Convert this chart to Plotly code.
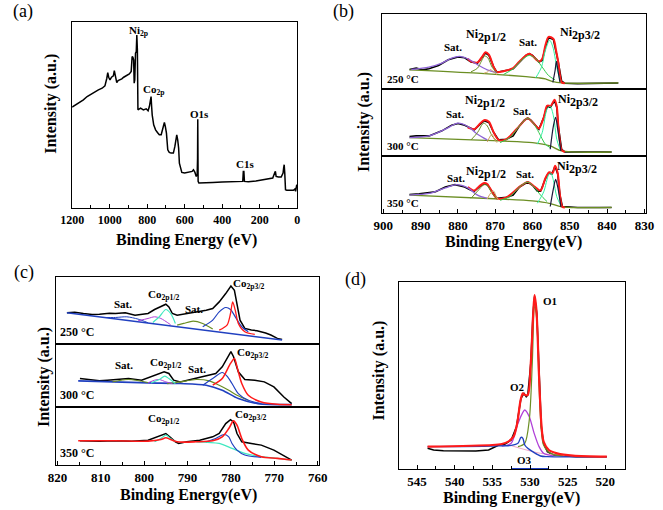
import plotly.graph_objects as go

FONT = "Liberation Serif, Times New Roman, serif"

# ---------------- (a) survey spectrum ----------------
a_e = [1200, 1180, 1160, 1140, 1120, 1100, 1080, 1060, 1040, 1025, 1015, 1010, 1005, 998, 990, 980, 975, 970, 962, 955,
       945, 935, 925, 910, 895, 885, 880, 876, 872, 869, 866, 862, 858, 855, 852, 849, 845, 835, 820, 805, 795, 788, 782,
       779, 776, 773, 765, 755, 745, 735, 725, 718, 712, 708, 703, 697, 690, 682, 672, 660, 652, 646, 642, 637, 632, 628,
       622, 615, 600, 580, 560, 553, 545, 538, 533, 531, 530, 528, 524, 510, 480, 450, 400, 350, 300, 290, 287, 284, 281,
       260, 220, 180, 150, 130, 120, 116, 112, 100, 85, 75, 72, 69, 66, 62, 55, 40, 30, 20, 12, 8, 5, 2]
a_i = [303, 310, 317, 325, 335, 342, 349, 355, 360, 367, 390, 407, 393, 385, 393, 397, 413, 400, 377, 383,
       385, 388, 393, 397, 403, 410, 455, 453, 445, 375, 385, 465, 470, 520, 475, 295, 297, 300, 295, 298, 292, 305, 325,
       335, 305, 280, 250, 235, 227, 220, 220, 240, 255, 257, 245, 225, 175, 167, 165, 165, 185, 213, 220, 205, 180, 135,
       125, 107, 105, 107, 110, 115, 107, 95, 100, 150, 267, 80, 75, 75, 75, 77, 78, 79, 82, 80, 110, 110, 80,
       79, 81, 84, 87, 90, 105, 110, 95, 93, 93, 105, 120, 130, 105, 55, 53, 52, 53, 53, 57, 50, 65, 70]
a_ticks = [1200, 1000, 800, 600, 400, 200, 0]

# ---------------- (b) Ni 2p, 250 C ----------------
b1_data_e = [893.0, 891.2, 889.5, 887.8, 885.2, 882.6, 880.0, 878.2, 876.5, 874.75, 873.45, 872.6, 871.7, 870.4, 869.55,
             867.8, 866.1, 865.2, 863.5, 861.75, 860.9, 860.0, 858.3, 857.4, 856.55, 855.7, 854.4, 853.7, 853.1, 852.2,
             851.35, 847.9, 844.4, 840.1, 837.0]
b1_data_i = [58, 62, 57, 60, 70, 87, 95, 93, 80, 77, 95, 107, 100, 65, 50, 53, 57, 60, 80, 100, 105, 100, 80, 85, 125,
             153, 147, 115, 80, 23, 17, 16, 17, 17, 18]
b1_bg_e = [893.0, 874.75, 861.75, 858.3, 856.55, 854.8, 852.2, 837.0]
b1_bg_i = [57, 47, 37, 33, 30, 23, 18, 18]
b1_sat1_e = [892.5, 887.8, 884.3, 881.7, 879.5, 877.35, 874.75, 872.15, 869.55]
b1_sat1_i = [58, 65, 77, 92, 97, 90, 72, 57, 49]
b1_p12_e = [876.5, 874.75, 873.7, 872.85, 872.0, 870.85, 869.55]
b1_p12_i = [51, 62, 83, 98, 93, 65, 48]
b1_tan_e = [873.0, 872.0, 871.3, 870.6, 869.55]
b1_tan_i = [47, 51, 58, 52, 43]
b1_sat2_e = [867.8, 865.2, 863.05, 860.9, 859.15, 857.4, 855.7, 853.95]
b1_sat2_i = [43, 60, 85, 100, 90, 65, 40, 27]
b1_p32_e = [859.15, 857.6, 856.55, 855.4, 854.55, 853.5, 852.65]
b1_p32_i = [33, 65, 115, 145, 125, 65, 25]
b1_p32b_e = [854.55, 853.95, 853.6, 853.25, 852.65]
b1_p32b_i = [20, 55, 82, 60, 20]
b1_fit_e = [877.35, 876.5, 874.75, 873.45, 872.6, 871.7, 870.4, 869.55, 867.8, 865.2, 863.5, 860.9, 858.3, 857.4,
            856.55, 855.7, 854.4, 853.7, 853.1, 852.2, 851.35]
b1_fit_i = [90, 82, 79, 97, 109, 102, 65, 50, 53, 62, 82, 105, 82, 90, 130, 155, 149, 115, 80, 20, 17]

# ---------------- (b) Ni 2p, 300 C ----------------
b2_data_e = [893.0, 891.2, 887.75, 884.3, 881.7, 880.0, 878.2, 876.5, 875.6, 874.3, 873.0, 871.7, 870.4, 869.1, 867.0,
             865.2, 863.5, 862.2, 861.3, 860.45, 859.15, 858.3, 857.0, 856.1, 855.25, 854.1, 853.5, 853.1, 852.2, 851.35,
             847.0, 838.8]
b2_data_i = [58, 60, 60, 75, 92, 97, 92, 82, 78, 92, 105, 100, 70, 48, 50, 60, 90, 107, 113, 107, 90, 80, 115, 148, 145,
             165, 145, 90, 20, 12, 12, 12]
b2_bg_e = [893.0, 868.7, 860.0, 855.25, 852.2, 838.8]
b2_bg_i = [55, 45, 40, 30, 15, 12]
b2_sat1_e = [893.0, 887.75, 883.4, 880.0, 877.35, 874.75, 872.15]
b2_sat1_i = [55, 60, 80, 98, 88, 65, 48]
b2_p12_e = [876.5, 874.75, 873.45, 873.0, 872.15, 870.85, 869.55]
b2_p12_i = [48, 70, 95, 98, 90, 60, 44]
b2_tan_e = [872.15, 871.3, 870.85, 870.25, 869.55]
b2_tan_i = [42, 60, 65, 50, 40]
b2_sat2_e = [868.7, 866.1, 863.5, 861.3, 859.6, 858.3, 856.55, 855.25]
b2_sat2_i = [40, 55, 90, 113, 95, 70, 35, 25]
b2_p32_e = [858.7, 857.4, 856.1, 855.25, 854.4, 853.5, 852.65]
b2_p32_i = [35, 70, 140, 148, 120, 50, 20]
b2_p32b_e = [855.25, 854.4, 853.8, 853.25, 852.4]
b2_p32b_i = [20, 90, 115, 80, 15]
b2_fit_e = [877.35, 875.6, 874.3, 873.0, 871.7, 870.4, 869.1, 867.0, 863.5, 861.3, 859.15, 858.3, 857.0, 856.1, 855.1,
            854.1, 853.5, 853.1, 852.2, 851.35]
b2_fit_i = [85, 80, 94, 107, 102, 70, 48, 50, 90, 113, 90, 82, 115, 150, 150, 168, 148, 92, 18, 12]

# ---------------- (b) Ni 2p, 350 C ----------------
b3_data_e = [893.0, 890.4, 886.0, 883.4, 880.8, 878.2, 876.5, 875.6, 874.3, 873.0, 872.15, 870.85, 869.55, 867.0, 865.2,
             863.5, 861.3, 860.0, 858.7, 857.85, 856.55, 855.7, 854.8, 853.95, 853.25, 852.65, 852.0, 847.9, 838.8]
b3_data_i = [57, 59, 65, 80, 87, 80, 70, 67, 80, 90, 87, 65, 45, 48, 55, 80, 95, 85, 67, 67, 105, 123, 120, 143, 120,
             55, 20, 17, 17]
b3_bg_e = [893.0, 868.7, 860.0, 855.25, 852.2, 838.8]
b3_bg_i = [55, 43, 37, 29, 19, 17]
b3_sat1_e = [893.0, 887.75, 883.4, 880.4, 877.35, 874.75, 872.15]
b3_sat1_i = [55, 60, 77, 87, 77, 55, 45]
b3_p12_e = [876.5, 874.75, 873.0, 872.15, 870.85, 869.55]
b3_p12_i = [45, 67, 87, 85, 60, 43]
b3_tan_e = [872.15, 871.1, 870.4, 869.7, 869.1]
b3_tan_i = [43, 63, 67, 50, 40]
b3_sat2_e = [868.7, 866.1, 863.5, 861.3, 859.6, 857.85, 856.1]
b3_sat2_i = [39, 50, 80, 95, 80, 55, 35]
b3_p32_e = [858.7, 857.0, 855.7, 855.1, 854.4, 853.5, 852.4]
b3_p32_i = [30, 65, 117, 123, 100, 50, 23]
b3_p32b_e = [855.25, 854.4, 853.8, 853.25, 852.4]
b3_p32b_i = [20, 75, 103, 80, 19]
b3_fit_e = [877.35, 875.6, 874.3, 873.0, 872.15, 870.85, 869.55, 867.0, 863.5, 861.3, 859.6, 857.85, 856.55, 855.5,
            854.6, 853.95, 853.25, 852.65, 852.0, 851.35]
b3_fit_i = [80, 69, 82, 92, 89, 65, 45, 48, 80, 95, 82, 69, 107, 125, 123, 145, 123, 55, 19, 17]
b_ticks = [900, 890, 880, 870, 860, 850, 840, 830]

# ---------------- (c) Co 2p, 250 C ----------------
c1_data_e = [817.8, 816.0, 814.0, 812.0, 810.3, 808.0, 806.6, 804.35, 802.1, 800.5, 799.1, 797.6, 796.15, 795.0, 794.3,
             793.5, 792.4, 790.2, 789.0, 787.95, 786.8, 785.7, 784.2, 782.7, 781.2, 780.0, 779.2, 778.6, 777.9, 776.8,
             775.3, 774.0, 773.0, 772.0, 770.8, 769.3, 768.2]
c1_data_i = [94, 96, 92, 89, 90, 93, 92, 94, 87, 90, 92, 104, 114, 120, 112, 92, 87, 92, 93, 97, 100, 102, 107, 127,
             152, 175, 162, 122, 72, 47, 42, 40, 37, 33, 27, 17, 14]
c1_bg_e = [817.8, 768.2]
c1_bg_i = [94, 12]
c1_satb_e = [809.6, 806.6, 804.0, 801.4, 799.1]
c1_satb_i = [80, 80, 82, 75, 64]
c1_pur_e = [801.4, 799.1, 797.6, 796.15, 793.9]
c1_pur_i = [70, 77, 82, 77, 58]
c1_cyan_e = [798.0, 796.5, 795.0, 793.9, 792.8]
c1_cyan_i = [65, 82, 104, 92, 62]
c1_sat_e = [792.4, 790.9, 788.7, 786.5, 784.2]
c1_sat_i = [57, 62, 69, 62, 45]
c1_blue_e = [786.5, 784.2, 782.7, 781.2, 780.1, 779.0, 777.5, 776.0]
c1_blue_i = [52, 72, 97, 110, 104, 82, 52, 37]
c1_red_e = [782.7, 780.9, 780.1, 779.6, 779.0, 778.3, 776.8, 774.5]
c1_red_i = [42, 57, 92, 127, 102, 62, 37, 29]

# ---------------- (c) Co 2p, 300 C ----------------
c2_data_e = [814.8, 812.5, 810.3, 808.5, 806.6, 803.6, 800.6, 797.6, 795.4, 794.3, 793.2, 791.7, 789.4, 787.2, 785.0,
             783.5, 782.0, 780.9, 780.0, 779.4, 778.3, 776.8, 774.5, 772.3, 770.1, 767.8, 766.0]
c2_data_i = [85, 82, 78, 80, 82, 85, 80, 95, 105, 100, 80, 75, 82, 88, 95, 100, 120, 145, 165, 150, 105, 82, 80, 75,
             60, 30, 10]
c2_bg_e = [815.2, 799.1, 791.7, 785.7, 782.0, 778.3, 773.8, 766.0]
c2_bg_i = [78, 72, 70, 65, 50, 25, 10, 7]
c2_sata_e = [807.3, 803.6, 799.1]
c2_sata_i = [75, 82, 73]
c2_sat_e = [794.7, 791.7, 788.0, 785.0, 782.7, 780.5, 778.6, 776.0]
c2_sat_i = [70, 75, 82, 78, 65, 50, 35, 20]
c2_pur_e = [799.1, 797.6, 796.5, 795.0, 793.5]
c2_pur_i = [72, 80, 82, 75, 70]
c2_cyan_e = [798.4, 796.5, 795.25, 794.3, 792.8]
c2_cyan_i = [72, 82, 92, 85, 70]
c2_blue_e = [786.5, 784.2, 782.0, 780.9, 779.75, 778.3, 776.0, 773.0]
c2_blue_i = [65, 85, 103, 92, 70, 40, 20, 10]
c2_red_e = [784.2, 782.0, 780.1, 779.2, 778.6, 777.5, 776.0, 773.0, 769.3, 766.0]
c2_red_i = [65, 85, 130, 145, 120, 70, 35, 15, 8, 7]

# ---------------- (c) Co 2p, 350 C ----------------
c3_data_e = [814.8, 812.0, 810.3, 806.6, 802.9, 799.1, 796.9, 795.0, 793.9, 792.8, 792.05, 790.2, 787.2, 784.2, 782.7,
             781.2, 780.1, 779.4, 778.6, 777.5, 775.3, 773.0, 770.1, 767.8, 766.0]
c3_data_i = [73, 71, 72, 73, 72, 75, 85, 95, 83, 70, 65, 70, 75, 85, 95, 125, 137, 130, 95, 70, 65, 60, 45, 27, 15]
c3_red_e = [815.2, 806.6, 799.1, 796.15, 795.0, 793.9, 792.4, 788.0, 784.2, 782.0, 780.5, 779.4, 778.6, 777.5, 776.0,
            773.0, 769.3, 766.0]
c3_red_i = [73, 73, 72, 77, 82, 77, 70, 70, 73, 85, 110, 133, 120, 80, 45, 25, 20, 15]
c3_blue_e = [785.7, 783.5, 781.6, 780.5, 779.75, 778.6, 776.8, 773.0]
c3_blue_i = [70, 80, 92, 85, 65, 45, 30, 23]
c3_cyan_e = [797.6, 796.15, 795.0, 793.9, 792.8]
c3_cyan_i = [70, 80, 90, 80, 70]
c3_cbg_e = [788.0, 782.7, 779.75, 776.8, 773.0, 769.3, 766.0]
c3_cbg_i = [70, 65, 50, 35, 25, 20, 15]
c_ticks = [820, 810, 800, 790, 780, 770, 760]

# ---------------- (d) O 1s ----------------
d_data_e = [543.6, 542.8, 541.5, 539.3, 537.2, 535.5, 534.8, 534.2, 533.3, 532.5, 531.8, 531.4, 531.2, 530.8, 530.5,
            530.3, 529.9, 529.6, 529.4, 529.1, 528.8, 528.5, 528.2, 527.7, 526.9, 525.6, 523.9, 522.15, 519.8]
d_data_i = [62, 57, 55, 54, 54, 57, 64, 71, 75, 87, 127, 187, 212, 227, 217, 222, 317, 467, 517, 467, 267, 127, 77, 52,
            42, 39, 37, 37, 37]
d_fit_e = [543.6, 535.0, 533.75, 532.9, 532.2, 531.7, 531.25, 530.95, 530.65, 530.3, 529.9, 529.6, 529.4, 529.15,
           528.8, 528.5, 528.2, 527.5, 526.4, 524.3, 519.8]
d_fit_i = [67, 72, 75, 82, 97, 137, 207, 227, 222, 222, 317, 457, 522, 477, 277, 137, 82, 57, 47, 40, 37]
d_o1_e = [531.6, 530.7, 530.1, 529.7, 529.4, 529.1, 528.8, 528.5, 528.2, 527.3, 525.6]
d_o1_i = [67, 77, 147, 317, 487, 447, 247, 117, 72, 47, 39]
d_o2_e = [533.75, 532.5, 531.6, 530.7, 530.1, 529.45, 528.8, 528.2, 526.9]
d_o2_i = [69, 77, 137, 177, 157, 107, 67, 47, 39]
d_o3_e = [543.6, 535.0, 532.5, 531.6, 531.2, 530.95, 530.7, 530.3, 529.45, 528.6, 527.7, 519.8]
d_o3_i = [67, 69, 71, 77, 95, 92, 72, 62, 49, 39, 37, 37]
d_pink_e = [532.5, 528.6, 524.3]
d_pink_i = [70, 47, 39]
d_axis_e = [532.5, 527.5]
d_axis_i = [1, 1]
d_ticks = [545, 540, 535, 530, 525, 520]

# ---------------- colours ----------------
BLACK = "#000000"
RED = "#ff1a1a"
PURPLE_B = "#8e63d6"
OLIVE = "#6b8e23"
TAN = "#d2a060"
GREEN = "#33c84a"
SPRING = "#2ef0a0"
DARK = "#1a1a3a"
BLUE = "#2040c0"
CYAN = "#40e8c0"
MAGENTA = "#b040d8"
PINK = "#f0a8c8"

fig = go.Figure()


def add(xs, ys, ax, color, width=1.0, spline=True):
    fig.add_trace(go.Scatter(
        x=xs, y=ys, mode="lines", xaxis="x" + ax, yaxis="y" + ax,
        line=dict(color=color, width=width, shape="spline" if spline else "linear", smoothing=0.8),
        hoverinfo="skip", showlegend=False))


# (a)
add(a_e, a_i, "", BLACK, 1.5, False)

# (b)
for ax, D in [("2", (b1_data_e, b1_data_i, b1_bg_e, b1_bg_i, b1_sat1_e, b1_sat1_i, b1_p12_e, b1_p12_i, b1_tan_e, b1_tan_i,
                      b1_sat2_e, b1_sat2_i, b1_p32_e, b1_p32_i, b1_p32b_e, b1_p32b_i, b1_fit_e, b1_fit_i)),
              ("3", (b2_data_e, b2_data_i, b2_bg_e, b2_bg_i, b2_sat1_e, b2_sat1_i, b2_p12_e, b2_p12_i, b2_tan_e, b2_tan_i,
                      b2_sat2_e, b2_sat2_i, b2_p32_e, b2_p32_i, b2_p32b_e, b2_p32b_i, b2_fit_e, b2_fit_i)),
              ("4", (b3_data_e, b3_data_i, b3_bg_e, b3_bg_i, b3_sat1_e, b3_sat1_i, b3_p12_e, b3_p12_i, b3_tan_e, b3_tan_i,
                      b3_sat2_e, b3_sat2_i, b3_p32_e, b3_p32_i, b3_p32b_e, b3_p32b_i, b3_fit_e, b3_fit_i))]:
    add(D[0], D[1], ax, BLACK, 1.6, False)
    add(D[2], D[3], ax, OLIVE, 1.3)
    add(D[16], D[17], ax, RED, 2.0)
    add(D[4], D[5], ax, PURPLE_B, 1.3)
    add(D[6], D[7], ax, OLIVE, 1.0)
    add(D[8], D[9], ax, TAN, 1.0)
    add(D[10], D[11], ax, GREEN, 1.0)
    add(D[12], D[13], ax, SPRING, 1.0)
    add(D[14], D[15], ax, DARK, 1.2)

# (c)
add(c1_data_e, c1_data_i, "5", BLACK, 1.5, False)
add(c1_bg_e, c1_bg_i, "5", BLUE, 1.6, False)
add(c1_satb_e, c1_satb_i, "5", BLUE, 1.0)
add(c1_pur_e, c1_pur_i, "5", MAGENTA, 1.0)
add(c1_cyan_e, c1_cyan_i, "5", CYAN, 1.2)
add(c1_sat_e, c1_sat_i, "5", OLIVE, 1.2)
add(c1_blue_e, c1_blue_i, "5", BLUE, 1.2)
add(c1_red_e, c1_red_i, "5", RED, 1.3)

add(c2_data_e, c2_data_i, "6", BLACK, 1.5, False)
add(c2_bg_e, c2_bg_i, "6", BLUE, 1.6)
add(c2_sata_e, c2_sata_i, "6", OLIVE, 1.0)
add(c2_sat_e, c2_sat_i, "6", OLIVE, 1.2)
add(c2_pur_e, c2_pur_i, "6", MAGENTA, 1.0)
add(c2_cyan_e, c2_cyan_i, "6", CYAN, 1.2)
add(c2_blue_e, c2_blue_i, "6", BLUE, 1.2)
add(c2_red_e, c2_red_i, "6", RED, 1.5)

add(c3_data_e, c3_data_i, "7", BLACK, 1.5, False)
add(c3_cbg_e, c3_cbg_i, "7", CYAN, 1.2)
add(c3_cyan_e, c3_cyan_i, "7", CYAN, 1.2)
add(c3_blue_e, c3_blue_i, "7", BLUE, 1.2)
add(c3_red_e, c3_red_i, "7", RED, 1.6)

# (d)
add(d_data_e, d_data_i, "8", BLACK, 1.5, False)
add(d_pink_e, d_pink_i, "8", PINK, 1.0)
add(d_o2_e, d_o2_i, "8", MAGENTA, 1.3)
add(d_o1_e, d_o1_i, "8", OLIVE, 1.2)
add(d_o3_e, d_o3_i, "8", BLUE, 1.4)
add(d_fit_e, d_fit_i, "8", RED, 2.2)
add(d_axis_e, d_axis_i, "8", BLUE, 1.5, False)

# ---------------- axes ----------------
W, H = 663, 510


def px_x(a, b):
    return [a / W, b / W]


def px_y(top, bottom):
    return [1 - bottom / H, 1 - top / H]


def xaxis(dom, rng, anchor, labels, tickvals, minor_dt, fs):
    return dict(domain=dom, range=rng, anchor=anchor, showline=True, mirror=True, linecolor="black", linewidth=1.3,
                showgrid=False, zeroline=False, tickvals=tickvals, showticklabels=labels,
                ticks="inside" if labels else "", ticklen=4, tickwidth=1, tickcolor="black",
                minor=dict(dtick=minor_dt, ticks="inside" if labels else "", ticklen=3, tickcolor="black",
                           showgrid=False),
                tickfont=dict(family=FONT, size=fs, color="black", weight="bold"))


def yaxis(dom, rng, anchor):
    return dict(domain=dom, range=rng, anchor=anchor, showline=True, mirror=True, linecolor="black", linewidth=1.3,
                showgrid=False, zeroline=False, showticklabels=False, ticks="")


b_x = px_x(381, 654)
c_x = px_x(45, 317)
layout = dict(
    width=W, height=H, margin=dict(l=0, r=0, t=0, b=0), paper_bgcolor="white", plot_bgcolor="white",
    showlegend=False,
    xaxis=xaxis(px_x(62, 294), [1200, 0], "y", True, a_ticks, 100, 12),
    yaxis=yaxis(px_y(22, 208), [0, 559], "x"),
    xaxis2=xaxis(b_x, [900.5, 829.5], "y2", False, b_ticks, 5, 13),
    yaxis2=yaxis(px_y(14, 89), [0, 223], "x2"),
    xaxis3=xaxis(b_x, [900.5, 829.5], "y3", False, b_ticks, 5, 13),
    yaxis3=yaxis(px_y(89, 156), [0, 200], "x3"),
    xaxis4=xaxis(b_x, [900.5, 829.5], "y4", True, b_ticks, 5, 13),
    yaxis4=yaxis(px_y(156, 213), [0, 175], "x4"),
    xaxis5=xaxis(c_x, [820.4, 759.6], "y5", False, c_ticks, 5, 13),
    yaxis5=yaxis(px_y(277, 344), [0, 202], "x5"),
    xaxis6=xaxis(c_x, [820.4, 759.6], "y6", False, c_ticks, 5, 13),
    yaxis6=yaxis(px_y(344, 407), [0, 188], "x6"),
    xaxis7=xaxis(c_x, [820.4, 759.6], "y7", True, c_ticks, 5, 13),
    yaxis7=yaxis(px_y(407, 465), [0, 175], "x7"),
    xaxis8=xaxis(px_x(399, 632), [547.4, 517.4], "y8", True, d_ticks, 2.5, 13),
    yaxis8=yaxis(px_y(282, 469), [0, 561], "x8"),
)
fig.update_layout(**layout)

# ---------------- annotations ----------------
ann = []


def note(text, x, y, ax, size=11, bold=True, xanchor="center", yanchor="middle", xref=None, yref=None):
    ann.append(dict(text=text, x=x, y=y, xref=xref or ("x" + ax), yref=yref or ("y" + ax), showarrow=False,
                    xanchor=xanchor, yanchor=yanchor,
                    font=dict(family=FONT, size=size, color="black", weight="bold" if bold else "normal")))


def paper(text, x, y, size=16, bold=True, angle=0):
    ann.append(dict(text=text, x=x / W, y=1 - y / H, xref="paper", yref="paper", showarrow=False,
                    xanchor="center", yanchor="middle", textangle=angle,
                    font=dict(family=FONT, size=size, color="black", weight="bold" if bold else "normal")))


SUBB = "<sub><span style='font-size:12px'>%s</span></sub>"

# (a)
note("Ni<sub>2p</sub>", 845, 532, "", 11)
note("Co<sub>2p</sub>", 762, 355, "", 11)
note("O1s", 521, 283, "", 11)
note("C1s", 279, 132, "", 11)

# (b)
for ax, pos in [("2", [(881.2, 125), (872.6, 160), (861.1, 140), (847.2, 165)]),
                ("3", [(880.7, 125), (872.8, 162), (862.9, 135), (847.9, 165)]),
                ("4", [(880.5, 107), (872.5, 123), (861.9, 120), (848.1, 140)])]:
    note("Sat.", pos[0][0], pos[0][1], ax, 11)
    note("Ni" + SUBB % "2p1/2", pos[1][0], pos[1][1], ax, 12)
    note("Sat.", pos[2][0], pos[2][1], ax, 11)
    note("Ni" + SUBB % "2p3/2", pos[3][0], pos[3][1], ax, 12)
for ax, t in [("2", "250 °C"), ("3", "300 °C"), ("4", "350 °C")]:
    note(t, 0.015, 0.03, ax, 11, xanchor="left", yanchor="bottom", xref="x%s domain" % ax, yref="y%s domain" % ax)

# (c)
note("Sat.", 804.9, 122, "5", 11)
note("Co<sub>2p1/2</sub>", 795.4, 147, "5", 11)
note("Sat.", 788.5, 107, "5", 11)
note("Co<sub>2p3/2</sub>", 775.9, 182, "5", 11)
note("Sat.", 804.7, 125, "6", 11)
note("Co<sub>2p1/2</sub>", 794.9, 132, "6", 11)
note("Sat.", 787.8, 112, "6", 11)
note("Co<sub>2p3/2</sub>", 775.0, 160, "6", 11)
note("Co<sub>2p1/2</sub>", 795.4, 138, "7", 11)
note("Co<sub>2p3/2</sub>", 775.4, 150, "7", 11)
for ax, t in [("5", "250 °C"), ("6", "300 °C"), ("7", "350 °C")]:
    note(t, 0.01, 0.05, ax, 12, xanchor="left", yanchor="bottom", xref="x%s domain" % ax, yref="y%s domain" % ax)

# (d)
note("O1", 527.3, 505, "8", 11)
note("O2", 531.7, 245, "8", 11)
note("O3", 530.7, 27, "8", 11)

# titles
paper("Binding Energy (eV)", 180, 240)
paper("Intensity (a.u.)", 40, 104, angle=-90)
paper("(a)", 11, 11, 18, False)
paper("Binding Energy(eV)", 517, 242)
paper("Intensity (a.u.)", 363, 122, angle=-90)
paper("(b)", 342, 11, 18, False)
paper("Binding Energy(eV)", 182, 495)
paper("Intensity (a.u.)", 33, 377, angle=-90)
paper("(c)", 12, 272, 18, False)
paper("Binding Energy(eV)", 515, 498)
paper("Intensity (a.u.)", 378, 371, angle=-90)
paper("(d)", 354, 279, 18, False)

fig.update_layout(annotations=ann)
fig.write_html("out.html", config={"displayModeBar": False},
               post_script="document.body.style.margin='0';document.body.style.overflow='hidden';")
